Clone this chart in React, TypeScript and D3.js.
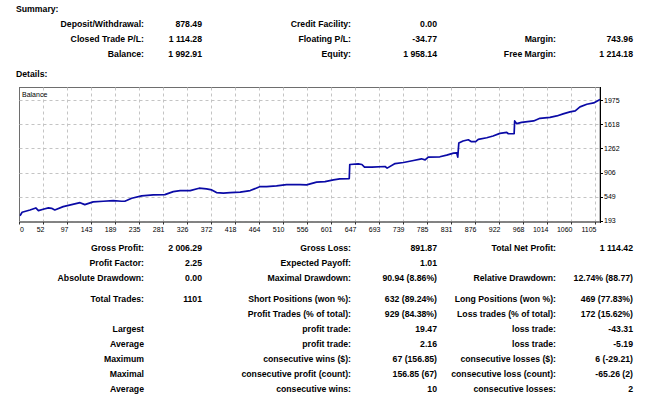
import React from 'react';
import * as d3 from 'd3';

// balance curve (trade #, balance)
const tradeNo = [0, 4, 19, 30, 35, 44, 54, 60, 66, 82, 98, 114, 123, 139, 158, 177, 193, 199, 212, 231, 253, 275, 291, 304, 323, 340, 354, 364, 373, 386, 399, 418, 437, 456, 468, 487, 506, 532, 544, 563, 579, 595, 607, 625, 626, 642, 649, 654, 668, 693, 697, 712, 728, 747, 762, 769, 775, 797, 810, 823, 829, 831, 833, 841, 851, 857, 865, 870, 886, 898, 911, 924, 927, 938, 939, 943, 952, 975, 987, 1006, 1019, 1031, 1044, 1054, 1063, 1076, 1089, 1101];
const balance = [267, 318, 352, 382, 342, 362, 382, 377, 352, 401, 431, 460, 431, 471, 481, 490, 481, 481, 526, 560, 575, 579, 624, 639, 639, 674, 664, 649, 609, 600, 609, 615, 639, 698, 698, 708, 728, 728, 723, 763, 772, 797, 812, 817, 1025, 1035, 1025, 986, 986, 995, 971, 1039, 1054, 1084, 1109, 1094, 1134, 1139, 1164, 1194, 1198, 1134, 1342, 1372, 1391, 1362, 1362, 1396, 1421, 1446, 1485, 1500, 1480, 1480, 1669, 1629, 1648, 1669, 1708, 1723, 1743, 1773, 1803, 1818, 1877, 1916, 1936, 1986];

const xTickLabels = ['0', '52', '97', '143', '189', '235', '281', '326', '372', '418', '464', '510', '556', '601', '647', '693', '739', '785', '831', '876', '922', '968', '1014', '1060', '1105'];
const yTicks = [193, 549, 906, 1262, 1618, 1975];

const summaryCol1 = [['Deposit/Withdrawal:', '878.49'], ['Closed Trade P/L:', '1 114.28'], ['Balance:', '1 992.91']];
const summaryCol2 = [['Credit Facility:', '0.00'], ['Floating P/L:', '-34.77'], ['Equity:', '1 958.14']];
const summaryCol3 = [['', ''], ['Margin:', '743.96'], ['Free Margin:', '1 214.18']];

const detailRows = [
  ['Gross Profit:', '2 006.29', 'Gross Loss:', '891.87', 'Total Net Profit:', '1 114.42'],
  ['Profit Factor:', '2.25', 'Expected Payoff:', '1.01', '', ''],
  ['Absolute Drawdown:', '0.00', 'Maximal Drawdown:', '90.94 (8.86%)', 'Relative Drawdown:', '12.74% (88.77)'],
  ['Total Trades:', '1101', 'Short Positions (won %):', '632 (89.24%)', 'Long Positions (won %):', '469 (77.83%)'],
  ['', '', 'Profit Trades (% of total):', '929 (84.38%)', 'Loss trades (% of total):', '172 (15.62%)'],
  ['Largest', '', 'profit trade:', '19.47', 'loss trade:', '-43.31'],
  ['Average', '', 'profit trade:', '2.16', 'loss trade:', '-5.19'],
  ['Maximum', '', 'consecutive wins ($):', '67 (156.85)', 'consecutive losses ($):', '6 (-29.21)'],
  ['Maximal', '', 'consecutive profit (count):', '156.85 (67)', 'consecutive loss (count):', '-65.26 (2)'],
  ['Average', '', 'consecutive wins:', '10', 'consecutive losses:', '2'],
];

const W = 650, H = 396;
const plot = { left: 19.5, top: 87.5, right: 600, bottom: 222 };
const colX = [144, 202, 351, 437, 556, 633];
const detailY = [250.5, 265.5, 281, 301.5, 317, 332, 347, 362, 377, 392];
const summaryY = [27, 42, 56.5];
const font = '"Liberation Sans", Arial, sans-serif';

export default function App() {
  const x = d3.scaleLinear().domain([0, 1101]).range([20, plot.right]);
  const y = d3.scaleLinear().domain([174, 2164]).range([plot.bottom, plot.top]);
  const xGrid = d3.scalePoint<string>().domain(xTickLabels).range([plot.left, 595.5]);

  const line = d3.line<number>()
    .x((_, i) => x(tradeNo[i]))
    .y(d => y(d));

  const txt = { fontFamily: font, fontSize: 8.7, fontWeight: 700, fill: '#000' } as const;

  return (
    <svg width={W} height={H} style={{ position: 'absolute', left: 0, top: 0, background: '#fff' }}>
      <text x={16} y={12} {...txt}>Summary:</text>
      {[summaryCol1, summaryCol2, summaryCol3].map((col, c) =>
        col.map((r, i) => (
          <g key={`s${c}-${i}`}>
            <text x={colX[c * 2]} y={summaryY[i]} textAnchor="end" {...txt}>{r[0]}</text>
            <text x={colX[c * 2 + 1]} y={summaryY[i]} textAnchor="end" {...txt}>{r[1]}</text>
          </g>
        ))
      )}
      <text x={16} y={77} {...txt}>Details:</text>

      {/* chart */}
      <defs>
        <clipPath id="plotClip">
          <rect x={plot.left} y={plot.top} width={plot.right - plot.left + 1} height={plot.bottom - plot.top} />
        </clipPath>
      </defs>
      <rect x={plot.left} y={plot.top} width={plot.right - plot.left} height={plot.bottom - plot.top} fill="#fff" stroke="#6e6e6e" strokeWidth={1} />
      {xTickLabels.slice(1).map(l => (
        <line key={`gx${l}`} x1={xGrid(l)} x2={xGrid(l)} y1={plot.top} y2={plot.bottom} stroke="#c4c4c4" strokeDasharray="3,3" />
      ))}
      {yTicks.map(t => (
        <line key={`gy${t}`} x1={plot.left} x2={plot.right} y1={Math.round(y(t)) + 0.5} y2={Math.round(y(t)) + 0.5} stroke="#c4c4c4" strokeDasharray="3,3" />
      ))}
      <text x={22} y={96.5} fontFamily={font} fontSize={7} fill="#000">Balance</text>
      <path d={line(balance) ?? ''} fill="none" stroke="#0a0aa6" strokeWidth={1.7} strokeLinejoin="round" clipPath="url(#plotClip)" />
      <line x1={plot.left} x2={plot.right} y1={plot.bottom} y2={plot.bottom} stroke="#707070" strokeWidth={1.5} />
      <line x1={plot.right + 0.5} x2={plot.right + 0.5} y1={plot.top - 0.5} y2={plot.bottom + 1} stroke="#000" strokeWidth={1} />
      {xTickLabels.map((l, i) => (
        <g key={`xt${l}`}>
          <line x1={xGrid(l)} x2={xGrid(l)} y1={plot.bottom} y2={plot.bottom + 2.5} stroke="#333" />
          <text x={i === 0 ? 20 : (xGrid(l) ?? 0) + 1} y={231.5} textAnchor={i === 0 ? 'start' : 'end'} fontFamily={font} fontSize={7} fill="#000">{l}</text>
        </g>
      ))}
      {yTicks.map(t => (
        <g key={`yt${t}`}>
          <line x1={plot.right} x2={plot.right + 3} y1={Math.round(y(t)) + 0.5} y2={Math.round(y(t)) + 0.5} stroke="#000" />
          <text x={604} y={y(t) + 2.5} fontFamily={font} fontSize={7} fill="#000">{t}</text>
        </g>
      ))}

      {detailRows.map((r, i) =>
        r.map((cell, c) => cell ? (
          <text key={`d${i}-${c}`} x={colX[c]} y={detailY[i]} textAnchor="end" {...txt}>{cell}</text>
        ) : null)
      )}
    </svg>
  );
}
